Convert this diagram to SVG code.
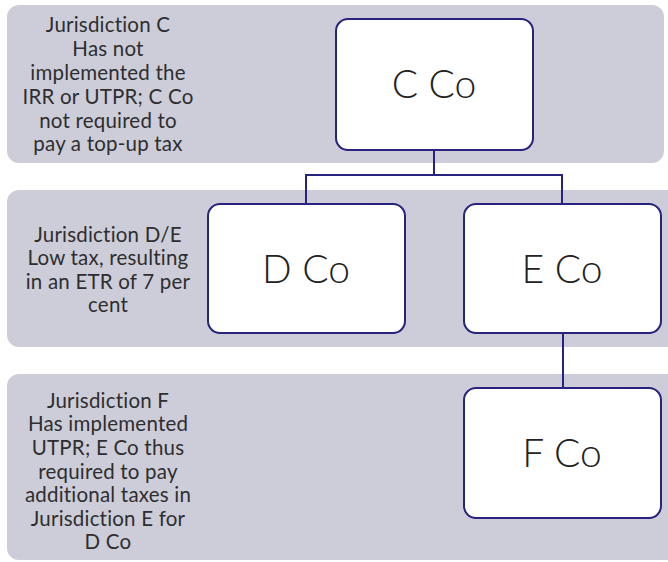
<svg xmlns="http://www.w3.org/2000/svg" width="668" height="562" viewBox="0 0 668 562">
<style>
.band{fill:#cdcdd9}
.box{fill:#ffffff;stroke:#27237f;stroke-width:2}
.lbl{font-family:Lato,"Open Sans","Liberation Sans",sans-serif;font-size:20.5px;fill:#2e2e2e;text-anchor:middle;letter-spacing:0.2px}
.nt{font-family:Lato,"Open Sans","Liberation Sans",sans-serif;font-size:39px;font-weight:300;fill:#222;text-anchor:middle}
.conn{fill:none;stroke:#27237f;stroke-width:2}
</style>
<rect width="668" height="562" fill="#ffffff"/>
<g id="band-c">
<rect class="band" x="7" y="5" width="657" height="158" rx="12"/>
<text class="lbl" x="108" y="32">Jurisdiction C</text>
<text class="lbl" x="108" y="56">Has not</text>
<text class="lbl" x="108" y="80">implemented the</text>
<text class="lbl" x="108" y="104">IRR or UTPR; C Co</text>
<text class="lbl" x="108" y="128">not required to</text>
<text class="lbl" x="108" y="151">pay a top-up tax</text>
</g>
<g id="band-de">
<rect class="band" x="7" y="190" width="673" height="157" rx="12"/>
<text class="lbl" x="108" y="242">Jurisdiction D/E</text>
<text class="lbl" x="108" y="265">Low tax, resulting</text>
<text class="lbl" x="108" y="289">in an ETR of 7 per</text>
<text class="lbl" x="108" y="312">cent</text>
</g>
<g id="band-f">
<rect class="band" x="7" y="374" width="673" height="186" rx="12"/>
<text class="lbl" x="108" y="408">Jurisdiction F</text>
<text class="lbl" x="108" y="431">Has implemented</text>
<text class="lbl" x="108" y="455">UTPR; E Co thus</text>
<text class="lbl" x="108" y="479">required to pay</text>
<text class="lbl" x="108" y="502">additional taxes in</text>
<text class="lbl" x="108" y="526">Jurisdiction E for</text>
<text class="lbl" x="108" y="549">D Co</text>
</g>
<g id="connectors">
<path class="conn" d="M434 150 V175 M306 175 H562 M306 174 V203 M562 174 V203 M563 333 V388"/>
</g>
<g id="node-c">
<rect class="box" x="336" y="19" width="197" height="131" rx="12"/>
<text class="nt" x="434" y="98">C Co</text>
</g>
<g id="node-d">
<rect class="box" x="208" y="204" width="197" height="129" rx="12"/>
<text class="nt" x="306" y="283">D Co</text>
</g>
<g id="node-e">
<rect class="box" x="464" y="204" width="197" height="129" rx="12"/>
<text class="nt" x="562" y="283">E Co</text>
</g>
<g id="node-f">
<rect class="box" x="464" y="388" width="197" height="130" rx="12"/>
<text class="nt" x="562" y="467">F Co</text>
</g>
</svg>
